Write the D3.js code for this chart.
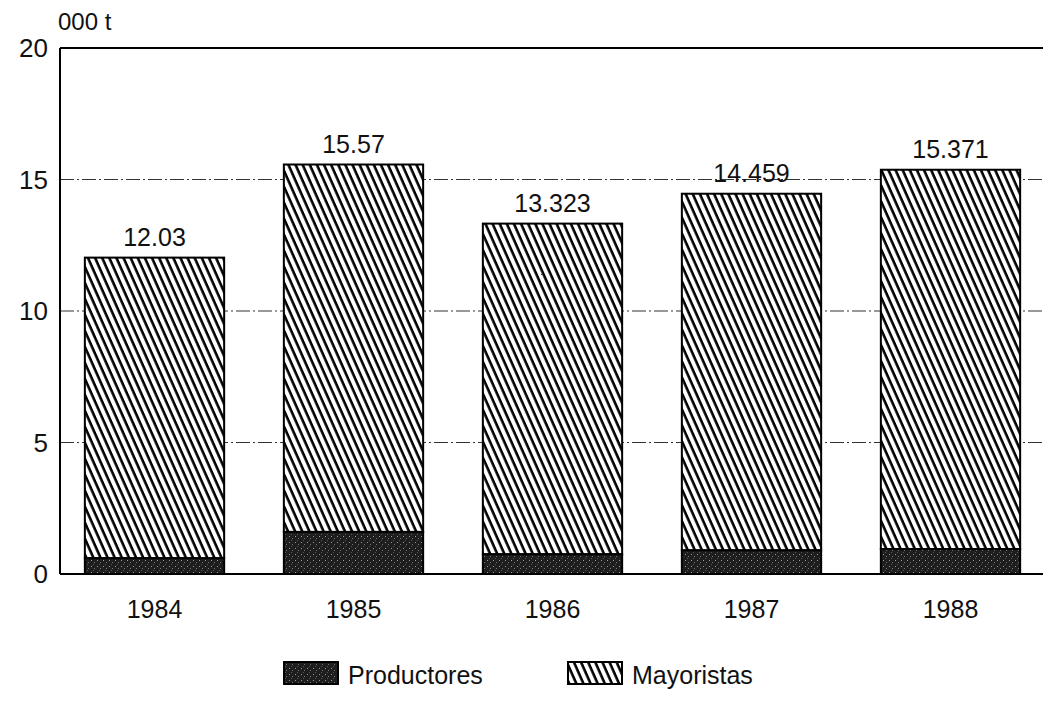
<!DOCTYPE html>
<html><head><meta charset="utf-8">
<script src="https://cdn.jsdelivr.net/npm/d3@7"></script>
<style>body{margin:0;background:#fff}svg{display:block}text{font-family:"Liberation Sans",Arial,sans-serif;fill:#111}</style>
</head><body><svg id="c" width="1043" height="701"></svg>
<script>
const years = ["1984","1985","1986","1987","1988"];
const totals = [12.03, 15.57, 13.323, 14.459, 15.371];
const totalLabels = ["12.03","15.57","13.323","14.459","15.371"];
const productores = [0.6, 1.6, 0.75, 0.9, 0.95];
const mayoristas = [11.43, 13.97, 12.573, 13.559, 14.421];
const yTicks = [0,5,10,15,20];
const seriesNames = ["Productores","Mayoristas"];

const svg = d3.select("#c");
const L = 60, R = 1043, T = 48, B = 574;
const x = d3.scaleBand().domain(years).range([55, 1050]).paddingInner(0.3).paddingOuter(0.15);
const y = d3.scaleLinear().domain([0,20]).range([B, T]);

const defs = svg.append("defs");
const hatch = defs.append("pattern").attr("id","hatch").attr("patternUnits","userSpaceOnUse")
  .attr("width",6.5).attr("height",8).attr("patternTransform","rotate(-24)");
hatch.append("rect").attr("width",6.5).attr("height",8).attr("fill","#fff");
hatch.append("line").attr("x1",1.5).attr("y1",0).attr("x2",1.5).attr("y2",8).attr("stroke","#000").attr("stroke-width",2.6);
const dark = defs.append("pattern").attr("id","dark").attr("patternUnits","userSpaceOnUse").attr("width",6).attr("height",6);
dark.append("rect").attr("width",6).attr("height",6).attr("fill","#1e1e1e");
dark.append("rect").attr("x",1).attr("y",2).attr("width",1).attr("height",1).attr("fill","#999");
dark.append("rect").attr("x",4).attr("y",4).attr("width",1).attr("height",1).attr("fill","#777");
dark.append("rect").attr("x",3).attr("y",0).attr("width",1).attr("height",1).attr("fill","#555");

// gridlines
svg.append("g").selectAll("line").data(yTicks.filter(d=>d>0&&d<20)).join("line")
  .attr("x1",L).attr("x2",R).attr("y1",d=>y(d)).attr("y2",d=>y(d))
  .attr("stroke","#333").attr("stroke-width",1).attr("stroke-dasharray","14,3,2,3");
// top, left, baseline
svg.append("line").attr("x1",L).attr("x2",R).attr("y1",y(20)).attr("y2",y(20)).attr("stroke","#000").attr("stroke-width",2);
svg.append("line").attr("x1",L).attr("x2",L).attr("y1",y(20)).attr("y2",y(0)).attr("stroke","#000").attr("stroke-width",2);
svg.append("line").attr("x1",L).attr("x2",R).attr("y1",y(0)).attr("y2",y(0)).attr("stroke","#000").attr("stroke-width",2);

// y tick labels
svg.append("g").selectAll("text").data(yTicks).join("text")
  .attr("x",48).attr("y",d=>y(d)+9).attr("text-anchor","end").attr("font-size",26).text(d=>d);
svg.append("text").attr("x",58).attr("y",30).attr("font-size",24).text("000 t");

// bars
const g = svg.append("g");
years.forEach((yr,i)=>{
  g.append("rect").attr("x",x(yr)).attr("width",x.bandwidth())
    .attr("y",y(productores[i]+mayoristas[i])).attr("height",y(productores[i])-y(productores[i]+mayoristas[i]))
    .attr("fill","url(#hatch)").attr("stroke","#000").attr("stroke-width",2);
  g.append("rect").attr("x",x(yr)).attr("width",x.bandwidth())
    .attr("y",y(productores[i])).attr("height",y(0)-y(productores[i]))
    .attr("fill","url(#dark)").attr("stroke","#000").attr("stroke-width",2);
  g.append("text").attr("x",x(yr)+x.bandwidth()/2).attr("y",y(totals[i])-12)
    .attr("text-anchor","middle").attr("font-size",25).text(totalLabels[i]);
  g.append("text").attr("x",x(yr)+x.bandwidth()/2).attr("y",y(0)+44)
    .attr("text-anchor","middle").attr("font-size",25).text(yr);
});

// legend
const leg = [{name:seriesNames[0],fill:"url(#dark)",x:284},{name:seriesNames[1],fill:"url(#hatch)",x:568}];
leg.forEach(d=>{
  svg.append("rect").attr("x",d.x).attr("y",662).attr("width",54).attr("height",22).attr("fill",d.fill).attr("stroke","#000").attr("stroke-width",2);
  svg.append("text").attr("x",d.x+64).attr("y",684).attr("font-size",25).text(d.name);
});
</script></body></html>
